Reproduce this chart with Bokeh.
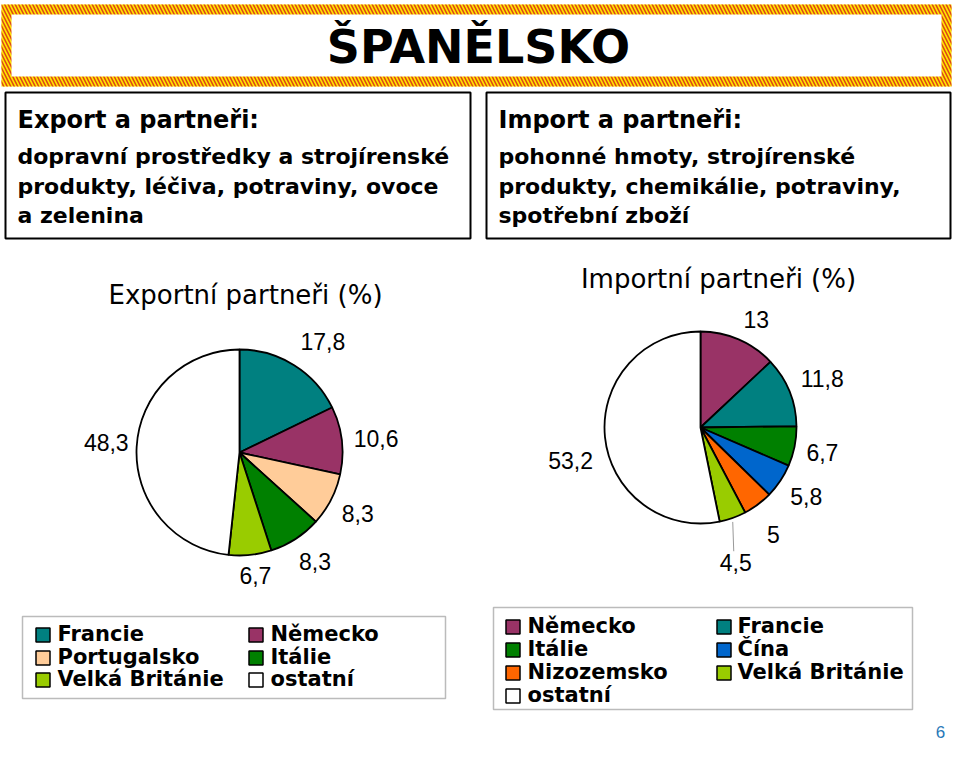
import math
from bokeh.plotting import figure
from bokeh.models import Range1d, ColumnDataSource
from bokeh.embed import file_html
from bokeh.resources import INLINE
from bokeh.core.properties import value

# ---------------- data ----------------
title_text = "ŠPANĚLSKO"
export_heading = "Export a partneři:"
export_lines = ["dopravní prostředky a strojírenské",
                "produkty, léčiva, potraviny, ovoce",
                "a zelenina"]
import_heading = "Import a partneři:"
import_lines = ["pohonné hmoty, strojírenské",
                "produkty, chemikálie, potraviny,",
                "spotřební zboží"]

export_title = "Exportní partneři (%)"
export_partners = ["Francie", "Německo", "Portugalsko", "Itálie", "Velká Británie", "ostatní"]
export_values = [17.8, 10.6, 8.3, 8.3, 6.7, 48.3]

import_title = "Importní partneři (%)"
import_partners = ["Německo", "Francie", "Itálie", "Čína", "Nizozemsko", "Velká Británie", "ostatní"]
import_values = [13, 11.8, 6.7, 5.8, 5, 4.5, 53.2]

page_number = "6"

# ---------------- styles ----------------
COLORS = {
    "Francie": "#008080",
    "Německo": "#993366",
    "Portugalsko": "#FFCC99",
    "Itálie": "#008000",
    "Velká Británie": "#99CC00",
    "Čína": "#0066CC",
    "Nizozemsko": "#FF6600",
    "ostatní": "#FFFFFF",
}
W, H = 952, 749


def Y(sy):
    return H - sy


p = figure(width=W, height=H, x_range=Range1d(0, W), y_range=Range1d(0, H),
           output_backend="svg", toolbar_location=None, min_border=0,
           x_axis_location=None, y_axis_location=None)
p.grid.visible = False
p.outline_line_color = None
p.background_fill_color = "white"


def txt(x, sy, s, size, bold=False, align="left", baseline="alphabetic",
        color="black", font="DejaVu Sans"):
    # "alphabetic" is emulated: place the middle of the capitals above the baseline
    if baseline == "alphabetic":
        sy = sy - 0.36 * size
        baseline = "middle"
    p.text(x=[x], y=[Y(sy)], text=[s], text_font=value(font),
           text_font_size=f"{size}px",
           text_font_style="bold" if bold else "normal",
           text_align=align, text_baseline=baseline, text_color=color)


def box(l, t, r, b, line_color="black", lw=2):
    p.quad(left=[l], right=[r], top=[Y(t)], bottom=[Y(b)], fill_color="white",
           line_color=line_color, line_width=lw)


# ---------------- banner ----------------
p.quad(left=[1], right=[951], top=[Y(4)], bottom=[Y(86)], fill_color="#FFE800",
       line_color=None, hatch_pattern="left_diagonal_line", hatch_color="#DD4A14",
       hatch_scale=7, hatch_weight=1.6)
p.quad(left=[11], right=[941], top=[Y(14)], bottom=[Y(76)], fill_color="white",
       line_color=None)
txt(478, 63, title_text, 46, bold=True, align="center")

# ---------------- text boxes ----------------
box(5, 92, 470, 238)
box(486, 92, 950, 238)
line_base = [164, 194, 223]
txt(17, 128, export_heading, 24, bold=True)
for s, b in zip(export_lines, line_base):
    txt(17, b, s, 22, bold=True)
txt(498, 128, import_heading, 24, bold=True)
for s, b in zip(import_lines, line_base):
    txt(498, b, s, 22, bold=True)

# ---------------- pies ----------------
txt(245, 304, export_title, 26, align="center")
txt(718, 288, import_title, 26, align="center")


def fmt(v):
    return f"{v:g}".replace(".", ",")


def pie(cx, cy, r, vals, names, nudges, leader=None):
    total = float(sum(vals))
    cum = 0.0
    starts, ends, mids = [], [], []
    for v in vals:
        a0 = cum / total
        cum += v
        a1 = cum / total
        starts.append(math.pi / 2 - 2 * math.pi * a1)
        ends.append(math.pi / 2 - 2 * math.pi * a0)
        mids.append(2 * math.pi * (a0 + a1) / 2)
    src = ColumnDataSource(dict(start=starts, end=ends,
                                color=[COLORS[n] for n in names]))
    p.wedge(x=cx, y=Y(cy), radius=r, start_angle="start", end_angle="end",
            fill_color="color", line_color="black", line_width=1.8, source=src)
    gap = 12
    for i, (v, m) in enumerate(zip(vals, mids)):
        dx = math.sin(m)
        sdy = -math.cos(m)  # screen y component, down positive
        px = cx + dx * (r + gap) + nudges[i][0]
        py = cy + sdy * (r + gap) + nudges[i][1]
        align = "left" if dx > 0.3 else ("right" if dx < -0.3 else "center")
        base = "top" if sdy > 0.3 else ("bottom" if sdy < -0.3 else "middle")
        if leader is not None and i == leader:
            align = "center"
            ex, ey = cx + dx * r, cy + sdy * r
            p.segment(x0=[ex], y0=[Y(ey + 4)], x1=[ex + 1], y1=[Y(py - 3)],
                      line_color="#999999", line_width=1)
        txt(px, py, fmt(v), 23, align=align, baseline=base, font="Liberation Sans")


pie(239, 452, 103, export_values, export_partners,
    [(0, -5), (0, 0), (0, 0), (-3, 4), (4, 0), (4, -4)])
pie(700, 427, 96, import_values, import_partners,
    [(0, 0), (0, 0), (0, 4), (0, 0), (2, 12), (-1, 25), (0, 22)], leader=5)

# ---------------- legends ----------------


def legend(l, t, r, b, names, col_sq, col_tx, baselines):
    box(l, t, r, b, line_color="#BBBBBB", lw=1.5)
    for i, n in enumerate(names):
        c, row = i % 2, i // 2
        bl = baselines[row]
        p.rect(x=[col_sq[c]], y=[Y(bl - 6.5)], width=14, height=14,
               fill_color=COLORS[n], line_color="black", line_width=1.5)
        txt(col_tx[c], bl, n, 21, bold=True)


legend(22, 616, 445, 698, export_partners, [42.5, 255.5], [57, 270], [641, 664, 686])
legend(493, 607, 912, 709, import_partners, [512.5, 723.5], [527, 737], [633, 656, 679, 702])

txt(940, 738, page_number, 17, align="center", color="#2878B8", font="Liberation Sans")

open("out.html", "w").write(file_html(p, INLINE))
